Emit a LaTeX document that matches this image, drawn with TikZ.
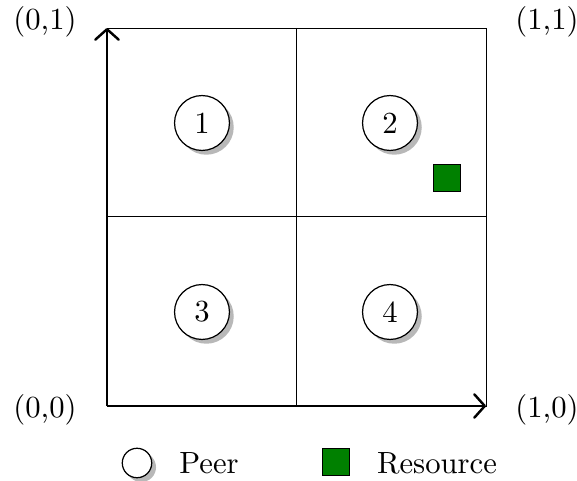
\documentclass[tikz,border=0pt]{standalone}
\usetikzlibrary{shadows,arrows.meta}
\begin{document}
\begin{tikzpicture}[x=0.326pt,y=-0.326pt,
  peer/.style={circle,draw,fill=white,minimum size=17.9pt,inner sep=0pt,
    drop shadow={fill=black!28,opacity=1,shadow xshift=1.4pt,shadow yshift=-1.4pt}},
  smallpeer/.style={peer,minimum size=9.6pt,
    drop shadow={fill=black!28,opacity=1,shadow xshift=1.1pt,shadow yshift=-1.1pt}},
  res/.style={rectangle,draw,fill=green!50!black,minimum size=8.8pt,inner sep=0pt},
  grid/.style={draw,line width=0.3pt},
  axis/.style={line width=0.8pt,-{Straight Barb[length=3.4pt,width=7.6pt,round]}},
  lbl/.style={inner sep=0pt}]
\useasboundingbox (0,0) rectangle (577,481);
% grid
\coordinate (o) at (107,406);
\coordinate (tr) at (486,28);
\coordinate (xe) at (486,406);
\coordinate (ye) at (107,28);
\coordinate (mt) at (296,28);
\coordinate (mb) at (296,406);
\coordinate (ml) at (107,216);
\coordinate (mr) at (486,216);
\draw[grid] (o) rectangle (tr);
\draw[grid] (mt) -- (mb);
\draw[grid] (ml) -- (mr);
\draw[axis] (o) -- (xe);
\draw[axis] (o) -- (ye);
% corner labels
\node[lbl] (l01) at (45,22) {(0,1)};
\node[lbl] (l11) at (547,22) {(1,1)};
\node[lbl] (l00) at (45,410) {(0,0)};
\node[lbl] (l10) at (547,410) {(1,0)};
% peers
\node[peer] (p1) at (202,123) {1};
\node[peer] (p2) at (390,123) {2};
\node[peer] (p3) at (202,312) {3};
\node[peer] (p4) at (390,312) {4};
% resource
\node[res] (r) at (447,178) {};
% legend
\node[smallpeer] (lp) at (137,463) {};
\node[lbl] (lpt) at (209,463) {Peer};
\node[res] (lr) at (336,462) {};
\node[lbl] (lrt) at (437,463) {Resource};
\end{tikzpicture}
\end{document}
